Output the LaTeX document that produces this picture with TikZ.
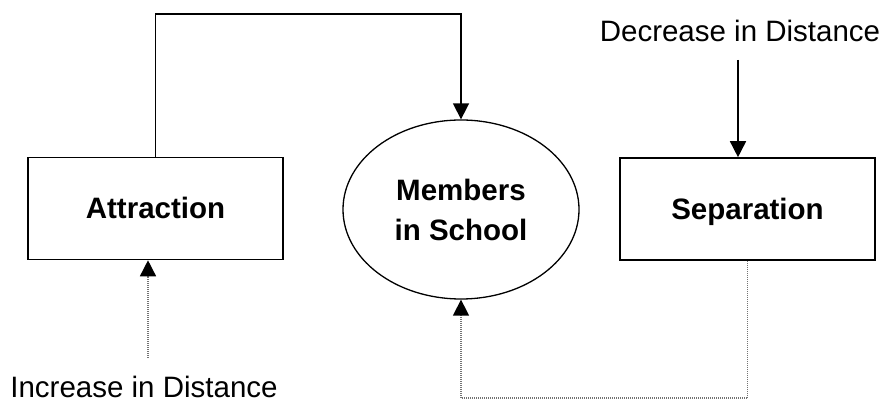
\documentclass[tikz,border=0pt]{standalone}
\usepackage{fontspec}
\setmainfont{Liberation Sans}
\usetikzlibrary{arrows.meta,shapes.geometric}
\begin{document}
\begin{tikzpicture}[x=1pt,y=1pt,
  lbl/.style={font=\fontsize{29.5}{40}\selectfont\bfseries, align=center},
  stockbox/.style={draw, line width=1.6pt, minimum width=255pt, minimum height=102pt, inner sep=0pt,
                   text height=21pt, text depth=0pt, lbl},
  pool/.style={draw, ellipse, line width=1.3pt, minimum width=236pt, minimum height=179pt, inner sep=0pt, lbl},
  note/.style={font=\fontsize{29.5}{35}\selectfont, inner sep=0pt, anchor=base},
  flow/.style={line width=1.6pt, -{Triangle[length=16pt,width=16pt]}},
  leak/.style={line width=1.5pt, draw=black!55, dash pattern=on 1pt off 1pt,
               -{Triangle[length=16pt,width=16pt,fill=black,color=black]}}
]
\useasboundingbox (0,0) rectangle (885,409);

% stocks
\node[stockbox] (attr) at (155.5,200.5) {Attraction};
\node[stockbox] (sep)  at (747.5,200)   {Separation};
\node[pool]     (memb) at (461,199.5)   {Members\\in School};

% driver labels
\node[note] (dec) at (740,367) {Decrease in Distance};
\node[note] (inc) at (144,11)  {Increase in Distance};

% routing points
\coordinate (rail) at (300,395);
\coordinate (floor) at (600,11);

% attraction feeds the school
\draw[flow] (attr.north) |- (rail) -| (memb.north);
% distance decrease drives separation
\draw[flow] ([xshift=-2pt,yshift=-18pt]dec.base) -- ([xshift=-9.5pt]sep.north);
% distance increase drives attraction
\draw[leak] ([xshift=4pt,yshift=40pt]inc.base) -- ([xshift=-7.5pt]attr.south);
% separation drains the school
\draw[leak] (sep.south) |- (floor) -| (memb.south);
\end{tikzpicture}
\end{document}
